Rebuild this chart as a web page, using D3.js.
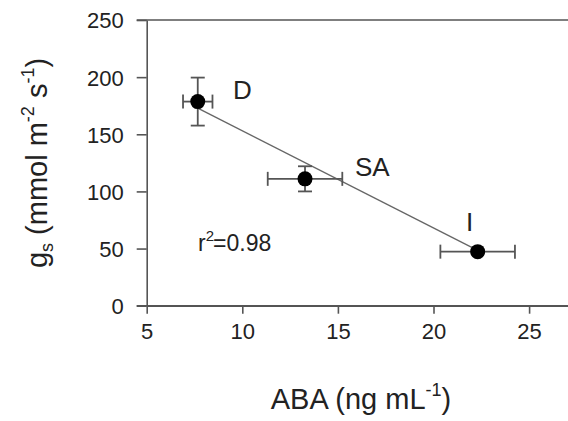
<!DOCTYPE html>
<html>
<head>
<meta charset="utf-8">
<script src="https://cdn.jsdelivr.net/npm/d3@7"></script>
<style>
  html, body { margin: 0; padding: 0; background: #fff; }
  svg { display: block; font-family: "Liberation Sans", Arial, sans-serif; }
</style>
</head>
<body>
<svg id="chart" width="568" height="421"></svg>
<script>
// ---- data ----
const treatments = ["D", "SA", "I"];
const abaValues = [7.67, 13.28, 22.31];      // ng mL-1
const abaErrors = [0.77, 1.95, 1.95];
const gsValues = [178.6, 111.0, 47.3];       // mmol m-2 s-1
const gsErrors = [21.0, 11.0, 0];
const xTicks = [5, 10, 15, 20, 25];
const yTicks = [0, 50, 100, 150, 200, 250];
const fitSlope = -8.5;
const fitIntercept = 238;
const rSquaredText = "0.98";

// ---- layout ----
const svg = d3.select("#chart");
const mLeft = 146.7, mTop = 20, mBottom = 305.7, mRight = 624.7;
const x = d3.scaleLinear().domain([5, 30]).range([mLeft, mRight]);
const y = d3.scaleLinear().domain([0, 250]).range([mBottom, mTop]);
const lineColor = "#555";
const textColor = "#222";

// frame top and right lines
svg.append("line")
  .attr("x1", mLeft - 10).attr("x2", mRight)
  .attr("y1", y(250)).attr("y2", y(250))
  .attr("stroke", lineColor).attr("stroke-width", 1.6);
svg.append("line")
  .attr("x1", mRight).attr("x2", mRight)
  .attr("y1", mTop).attr("y2", mBottom)
  .attr("stroke", lineColor).attr("stroke-width", 1.6);

// y axis
const yAxis = svg.append("g").attr("transform", `translate(${mLeft},0)`)
  .call(d3.axisLeft(y).tickValues(yTicks).tickSize(10).tickSizeOuter(0).tickPadding(13));
// x axis
const xAxis = svg.append("g").attr("transform", `translate(0,${mBottom})`)
  .call(d3.axisBottom(x).tickValues(xTicks).tickSize(8).tickSizeOuter(0).tickPadding(10));

[yAxis, xAxis].forEach(g => {
  g.select(".domain").attr("stroke", lineColor).attr("stroke-width", 1.6);
  g.selectAll(".tick line").attr("stroke", lineColor).attr("stroke-width", 1.6);
  g.selectAll(".tick text").attr("fill", textColor).style("font-size", "22px")
    .style("font-family", "'Liberation Sans', Arial, sans-serif");
});
yAxis.selectAll(".tick text").attr("dy", "0.36em");
xAxis.selectAll(".tick text").attr("dy", "0.71em");
// extend x axis line left to tick length
svg.append("line")
  .attr("x1", mLeft - 10).attr("x2", mRight)
  .attr("y1", mBottom).attr("y2", mBottom)
  .attr("stroke", lineColor).attr("stroke-width", 1.6);

// regression line
const x0 = abaValues[0], x1 = abaValues[abaValues.length - 1];
svg.append("line")
  .attr("x1", x(x0)).attr("y1", y(fitIntercept + fitSlope * x0))
  .attr("x2", x(x1)).attr("y2", y(fitIntercept + fitSlope * x1))
  .attr("stroke", "#666").attr("stroke-width", 1.4);

// error bars and points
const pts = treatments.map((t, i) => ({
  t, xv: abaValues[i], xe: abaErrors[i], yv: gsValues[i], ye: gsErrors[i]
}));
const cap = 7;
const eg = svg.append("g").attr("stroke", lineColor).attr("stroke-width", 1.8);
pts.forEach(p => {
  if (p.xe > 0) {
    eg.append("line").attr("x1", x(p.xv - p.xe)).attr("x2", x(p.xv + p.xe))
      .attr("y1", y(p.yv)).attr("y2", y(p.yv));
    [p.xv - p.xe, p.xv + p.xe].forEach(v => eg.append("line")
      .attr("x1", x(v)).attr("x2", x(v)).attr("y1", y(p.yv) - cap).attr("y2", y(p.yv) + cap));
  }
  if (p.ye > 0) {
    eg.append("line").attr("x1", x(p.xv)).attr("x2", x(p.xv))
      .attr("y1", y(p.yv - p.ye)).attr("y2", y(p.yv + p.ye));
    [p.yv - p.ye, p.yv + p.ye].forEach(v => eg.append("line")
      .attr("x1", x(p.xv) - cap).attr("x2", x(p.xv) + cap).attr("y1", y(v)).attr("y2", y(v)));
  }
});
svg.append("g").selectAll("circle").data(pts).join("circle")
  .attr("cx", d => x(d.xv)).attr("cy", d => y(d.yv)).attr("r", 7.5)
  .attr("fill", "#000");

// treatment labels
const labelPos = { D: [233, 99], SA: [355, 176], I: [466, 231] };
svg.append("g").selectAll("text").data(pts).join("text")
  .attr("x", d => labelPos[d.t][0]).attr("y", d => labelPos[d.t][1])
  .attr("fill", textColor).style("font-size", "26px")
  .text(d => d.t);

// r^2 annotation
const rt = svg.append("text").attr("x", 198).attr("y", 251)
  .attr("fill", textColor).style("font-size", "23px");
rt.append("tspan").text("r");
rt.append("tspan").attr("dy", -10).style("font-size", "15px").text("2");
rt.append("tspan").attr("dy", 10).attr("dx", -1).text("=" + rSquaredText);

// x title
const xt = svg.append("text").attr("x", 361).attr("y", 409)
  .attr("text-anchor", "middle").attr("fill", textColor).style("font-size", "29px");
xt.append("tspan").text("ABA (ng mL");
xt.append("tspan").attr("dy", -13).style("font-size", "18px").text("-1");
xt.append("tspan").attr("dy", 13).text(")");

// y title
const yt = svg.append("text").attr("transform", "translate(47,163) rotate(-90)")
  .attr("text-anchor", "middle").attr("fill", textColor).style("font-size", "29px");
yt.append("tspan").text("g");
yt.append("tspan").attr("dy", 6).style("font-size", "18px").text("s");
yt.append("tspan").attr("dy", -6).text(" (mmol m");
yt.append("tspan").attr("dy", -13).style("font-size", "18px").text("-2");
yt.append("tspan").attr("dy", 13).text(" s");
yt.append("tspan").attr("dy", -13).style("font-size", "18px").text("-1");
yt.append("tspan").attr("dy", 13).text(")");
</script>
</body>
</html>
